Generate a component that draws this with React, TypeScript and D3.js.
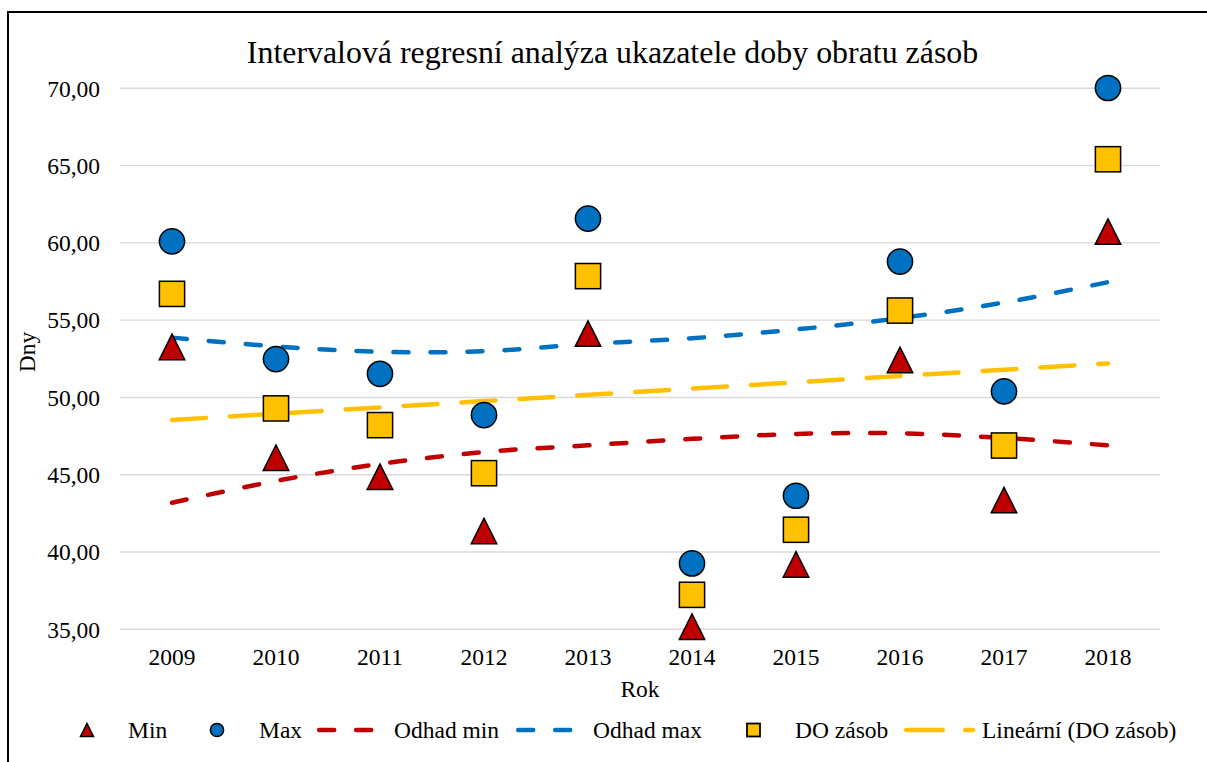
import React from 'react';
import * as d3 from 'd3';

// data
const years = ['2009', '2010', '2011', '2012', '2013', '2014', '2015', '2016', '2017', '2018'];
const minVals = [53.27, 46.1, 44.87, 41.36, 54.13, 35.17, 39.2, 52.43, 43.36, 60.73];
const maxVals = [60.1, 52.48, 51.53, 48.86, 61.57, 39.26, 43.64, 58.79, 50.39, 70.02];
const odhadMin = [43.19, 44.6, 45.7, 46.47, 46.9, 47.32, 47.64, 47.68, 47.38, 46.9];
const odhadMax = [53.87, 53.3, 52.95, 52.99, 53.46, 53.83, 54.4, 55.13, 56.14, 57.46];
const doZasob = [56.7, 49.29, 48.21, 45.1, 57.85, 37.23, 41.44, 55.62, 46.89, 65.41];
const yTicks = [35, 40, 45, 50, 55, 60, 65, 70];

const title = 'Intervalová regresní analýza ukazatele doby obratu zásob';
const legendLabels = ['Min', 'Max', 'Odhad min', 'Odhad max', 'DO zásob', 'Lineární (DO zásob)'];

const W = 1207;
const H = 762;
const font = '"Liberation Serif", "Times New Roman", serif';
const C = { red: '#C00000', blue: '#0070C0', yellow: '#FFC000', grid: '#d9d9d9' };

const plot = { left: 120, right: 1160, top: 88.3, bottom: 629.3 };

const csLocale = d3.formatLocale({ decimal: ',', thousands: ' ', grouping: [3], currency: ['', ' Kč'] });
const fmt = csLocale.format('.2f');

// linear trendline (least squares) of DO zásob, like Excel's
function linearFit(vals: number[]) {
  const xs = vals.map((_, i) => i);
  const mx = d3.mean(xs) as number;
  const my = d3.mean(vals) as number;
  const sxy = d3.sum(xs, (xv, i) => (xv - mx) * (vals[i] - my));
  const sxx = d3.sum(xs, (xv) => (xv - mx) * (xv - mx));
  const b = sxy / sxx;
  const a = my - b * mx;
  return xs.map((xv) => a + b * xv);
}

const triPath = (cx: number, cy: number, s: number) =>
  `M${cx},${cy - s / 2}L${cx + s / 2},${cy + s / 2}L${cx - s / 2},${cy + s / 2}Z`;

export default function App() {
  const x = d3.scaleBand().domain(years).range([plot.left, plot.right]);
  const cx = (d: string) => (x(d) as number) + x.bandwidth() / 2;
  const y = d3.scaleLinear().domain([35, 70]).range([plot.bottom, plot.top]);

  const smooth = d3
    .line<number>()
    .x((_, i) => cx(years[i]))
    .y((v) => y(v))
    .curve(d3.curveCatmullRom.alpha(0.5));
  const straight = d3
    .line<number>()
    .x((_, i) => cx(years[i]))
    .y((v) => y(v));

  const trend = linearFit(doZasob);

  const shortDash = '15 22';
  const longDash = '34 24';

  // legend layout
  const ly = 730;
  const lBase = 738;
  const lx = [87, 217, 317, 516, 753.5, 904];
  const ltx = [128, 259, 394, 593, 795, 982];

  return (
    <div style={{ position: 'absolute', left: 0, top: 0 }}>
      <svg width={W} height={H} style={{ display: 'block', background: '#fff' }} fontFamily={font}>
        <rect x={8} y={12} width={1209} height={760} fill="#fff" stroke="#000" strokeWidth={2} />

        <text x={612.5} y={63} textAnchor="middle" fontSize={31.9} fill="#000">
          {title}
        </text>

        {yTicks.map((t) => (
          <g key={t}>
            <line x1={plot.left} x2={plot.right} y1={y(t)} y2={y(t)} stroke={C.grid} strokeWidth={1.4} />
            <text x={100} y={y(t)} dy="0.35em" textAnchor="end" fontSize={23.5} fill="#000">
              {fmt(t)}
            </text>
          </g>
        ))}

        {years.map((yr) => (
          <text key={yr} x={cx(yr)} y={665} textAnchor="middle" fontSize={23.5} fill="#000">
            {yr}
          </text>
        ))}

        <text x={(plot.left + plot.right) / 2} y={697} textAnchor="middle" fontSize={23.5} fill="#000">
          Rok
        </text>
        <text transform="translate(35,352) rotate(-90)" textAnchor="middle" fontSize={23.5} fill="#000">
          Dny
        </text>

        {/* estimate lines */}
        <path d={smooth(odhadMin) || ''} fill="none" stroke={C.red} strokeWidth={4.5} strokeDasharray={shortDash} strokeLinecap="round" />
        <path d={smooth(odhadMax) || ''} fill="none" stroke={C.blue} strokeWidth={4.5} strokeDasharray={shortDash} strokeLinecap="round" />
        <path d={straight(trend) || ''} fill="none" stroke={C.yellow} strokeWidth={4.5} strokeDasharray={longDash} strokeLinecap="round" />

        {/* markers */}
        {minVals.map((v, i) => (
          <path key={'mn' + i} d={triPath(cx(years[i]), y(v), 25.5)} fill={C.red} stroke="#000" strokeWidth={1.5} strokeLinejoin="miter" />
        ))}
        {maxVals.map((v, i) => (
          <circle key={'mx' + i} cx={cx(years[i])} cy={y(v)} r={12.6} fill={C.blue} stroke="#000" strokeWidth={1.5} />
        ))}
        {doZasob.map((v, i) => (
          <rect key={'do' + i} x={cx(years[i]) - 12.6} y={y(v) - 12.6} width={25.2} height={25.2} fill={C.yellow} stroke="#000" strokeWidth={1.5} />
        ))}

        {/* legend */}
        <path d={triPath(lx[0], ly, 13)} fill={C.red} stroke="#000" strokeWidth={1.5} />
        <circle cx={lx[1]} cy={ly} r={6.6} fill={C.blue} stroke="#000" strokeWidth={1.5} />
        <line x1={lx[2] + 2.2} x2={lx[2] + 55} y1={ly} y2={ly} stroke={C.red} strokeWidth={4.5} strokeDasharray={shortDash} strokeLinecap="round" />
        <line x1={lx[3] + 2.2} x2={lx[3] + 55} y1={ly} y2={ly} stroke={C.blue} strokeWidth={4.5} strokeDasharray={shortDash} strokeLinecap="round" />
        <rect x={lx[4] - 6.5} y={ly - 6.5} width={13} height={13} fill={C.yellow} stroke="#000" strokeWidth={1.8} />
        <line x1={lx[5] + 2.2} x2={lx[5] + 69} y1={ly} y2={ly} stroke={C.yellow} strokeWidth={4.5} strokeDasharray="36.5 22.5" strokeLinecap="round" />
        {legendLabels.map((l, i) => (
          <text key={l} x={ltx[i]} y={lBase} fontSize={23.5} fill="#000">
            {l}
          </text>
        ))}
      </svg>
    </div>
  );
}
